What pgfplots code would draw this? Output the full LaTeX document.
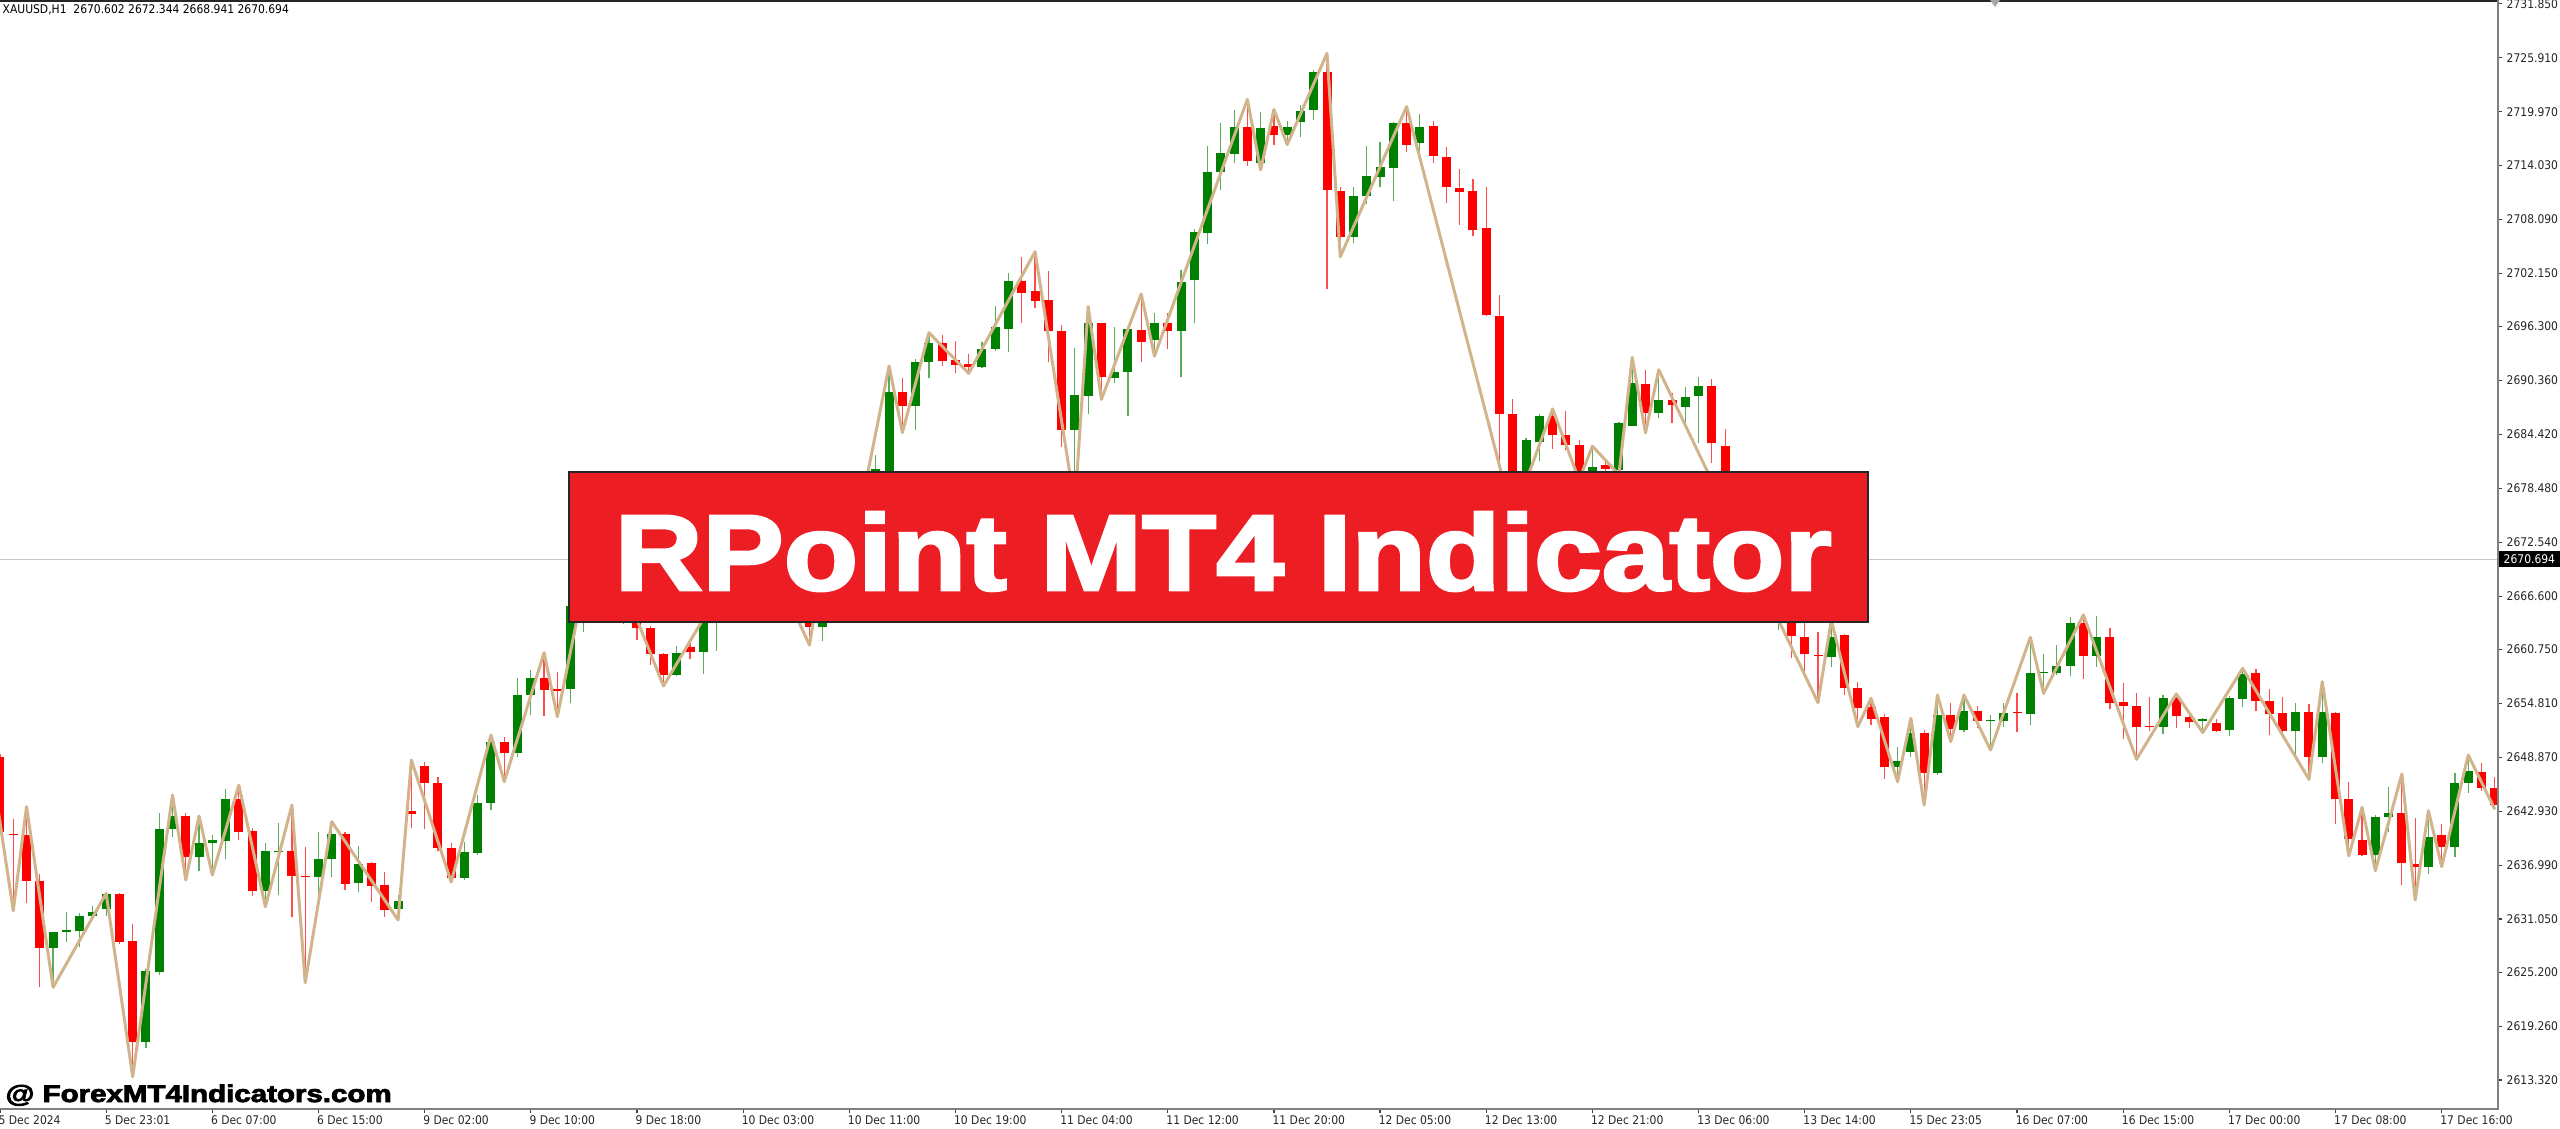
\documentclass[border=0pt]{standalone}
\usepackage{pgfplots}
\usepackage{pgfplotstable}
\usepackage{graphicx}
\usepackage{fontspec}
\pgfplotsset{compat=1.18}
\setmainfont{Liberation Sans}
\newfontfamily\mtfont[FakeStretch=0.9]{DejaVu Sans}
\newfontfamily\bannerfont[BoldFeatures={FakeBold=2.5}]{Liberation Sans}
\newfontfamily\wmfont[BoldFeatures={FakeBold=3}]{Liberation Sans}
\definecolor{mtgreen}{RGB}{0,128,0}
\definecolor{mtred}{RGB}{255,0,0}
\definecolor{zz}{RGB}{210,180,140}
\definecolor{banner}{RGB}{237,29,36}

\pgfplotstableread{
i O H L C
0 2648.93 2649.20 2640.40 2640.67
1 2640.45 2642.03 2631.97 2640.31
2 2640.31 2643.43 2632.78 2635.24
3 2635.24 2635.98 2623.60 2627.90
4 2627.90 2629.66 2623.53 2629.59
5 2629.62 2631.79 2628.56 2629.81
6 2629.73 2631.75 2628.01 2631.39
7 2631.39 2632.52 2631.31 2631.86
8 2632.12 2633.88 2631.39 2633.81
9 2633.81 2633.88 2628.30 2628.52
10 2628.60 2630.51 2613.69 2617.55
11 2617.55 2625.51 2616.81 2625.33
12 2625.26 2642.69 2624.89 2640.93
13 2640.93 2644.71 2640.12 2642.40
14 2642.40 2642.77 2635.35 2637.92
15 2637.92 2642.40 2636.38 2639.46
16 2639.39 2640.31 2635.90 2639.76
17 2639.68 2645.34 2637.63 2644.24
18 2644.24 2645.81 2639.76 2640.67
19 2640.78 2641.04 2633.59 2634.18
20 2634.18 2639.39 2632.41 2638.55
21 2638.40 2641.59 2633.70 2638.55
22 2638.55 2643.61 2631.24 2635.79
23 2635.79 2639.02 2624.04 2635.65
24 2635.72 2640.67 2633.70 2637.63
25 2637.63 2641.78 2635.65 2640.42
26 2640.42 2640.67 2634.25 2634.91
27 2635.06 2639.10 2634.07 2637.08
28 2637.19 2637.37 2632.97 2634.69
29 2634.80 2636.27 2631.31 2632.05
30 2632.12 2633.70 2630.95 2633.04
31 2642.99 2648.57 2641.04 2642.62
32 2647.91 2648.38 2640.93 2646.07
33 2646.07 2646.73 2638.50 2638.84
34 2638.84 2639.46 2635.13 2635.57
35 2635.57 2639.57 2635.40 2638.47
36 2638.36 2644.71 2638.10 2643.87
37 2643.87 2651.32 2643.06 2650.59
38 2650.59 2651.14 2646.18 2649.37
39 2649.30 2657.56 2648.86 2655.73
40 2655.73 2658.48 2653.52 2657.56
41 2657.56 2660.39 2653.41 2656.28
42 2656.35 2658.30 2653.34 2656.20
43 2656.35 2666.00 2654.81 2665.56
44 2665.56 2672.00 2662.70 2671.00
45 2671.00 2675.00 2669.50 2673.50
46 2673.50 2674.20 2668.00 2669.00
47 2669.00 2670.50 2663.60 2666.00
48 2666.00 2667.00 2661.78 2663.07
49 2663.07 2663.32 2659.03 2660.24
50 2660.24 2660.39 2656.72 2657.93
51 2657.93 2661.12 2657.86 2660.31
52 2660.98 2661.49 2659.65 2660.50
53 2660.50 2666.50 2658.04 2665.80
54 2665.80 2669.50 2660.61 2668.80
55 2668.80 2671.50 2666.50 2670.50
56 2670.50 2671.80 2667.50 2668.50
57 2668.50 2674.00 2667.80 2672.80
58 2672.80 2673.50 2668.50 2669.20
59 2669.20 2670.50 2665.50 2666.50
60 2666.50 2668.00 2664.20 2665.00
61 2665.00 2666.30 2661.23 2663.25
62 2663.25 2670.50 2661.71 2669.80
63 2669.80 2679.00 2669.00 2677.50
64 2677.50 2678.60 2676.50 2678.20
65 2678.20 2678.90 2677.30 2678.60
66 2678.60 2682.16 2678.00 2680.58
67 2680.20 2691.96 2679.80 2689.14
68 2689.06 2690.60 2684.62 2687.56
69 2687.56 2692.70 2684.90 2692.44
70 2692.44 2695.63 2690.60 2694.53
71 2694.46 2695.38 2691.96 2692.55
72 2692.62 2694.72 2691.23 2692.07
73 2692.18 2693.28 2691.15 2691.89
74 2691.82 2694.64 2691.70 2693.80
75 2693.80 2698.57 2693.65 2696.22
76 2696.04 2702.17 2693.54 2701.36
77 2701.32 2703.93 2696.74 2700.04
78 2700.22 2704.55 2698.31 2699.12
79 2699.23 2702.46 2692.44 2695.85
80 2695.82 2696.48 2683.08 2684.91
81 2684.91 2693.91 2676.58 2688.77
82 2688.65 2698.50 2686.68 2696.66
83 2696.66 2696.73 2688.29 2690.79
84 2690.60 2696.29 2690.13 2691.34
85 2691.34 2696.11 2686.46 2696.00
86 2695.93 2699.89 2692.44 2694.64
87 2694.83 2697.84 2693.06 2696.66
88 2696.73 2697.76 2693.80 2695.85
89 2695.85 2702.54 2690.71 2701.25
90 2701.43 2707.01 2696.66 2706.76
91 2706.57 2716.19 2705.40 2713.36
92 2713.36 2718.76 2711.35 2715.38
93 2715.31 2720.16 2714.36 2718.25
94 2718.25 2721.33 2713.99 2714.57
95 2714.27 2719.95 2713.57 2718.21
96 2718.40 2720.22 2716.28 2717.36
97 2717.44 2718.98 2716.35 2718.28
98 2718.79 2720.72 2717.13 2720.06
99 2720.14 2724.58 2719.06 2724.39
100 2724.31 2726.40 2700.44 2711.33
101 2711.25 2711.64 2703.99 2706.15
102 2706.15 2711.64 2705.46 2710.67
103 2710.67 2716.16 2709.79 2712.88
104 2712.80 2716.59 2711.72 2713.88
105 2713.77 2718.79 2710.17 2718.67
106 2718.67 2720.53 2715.50 2716.28
107 2716.47 2719.68 2715.58 2718.28
108 2718.40 2718.98 2714.27 2715.04
109 2715.00 2716.08 2709.90 2711.64
110 2711.52 2713.65 2707.47 2711.14
111 2711.25 2712.61 2706.23 2706.89
112 2707.12 2711.72 2697.42 2697.54
113 2697.42 2699.74 2679.00 2686.73
114 2686.73 2688.38 2675.31 2677.00
115 2677.00 2684.02 2676.00 2683.83
116 2683.64 2686.73 2681.51 2686.45
117 2686.45 2687.23 2682.86 2684.41
118 2684.41 2687.00 2682.67 2683.25
119 2683.25 2683.83 2679.40 2680.20
120 2680.20 2683.13 2679.80 2680.81
121 2681.01 2681.70 2679.90 2680.66
122 2680.54 2685.76 2680.00 2685.68
123 2685.37 2692.91 2685.37 2690.09
124 2690.01 2691.48 2684.60 2686.84
125 2686.84 2691.55 2686.22 2688.27
126 2688.22 2689.00 2685.65 2687.67
127 2687.48 2689.61 2685.65 2688.51
128 2688.66 2690.80 2683.44 2689.76
129 2689.76 2690.50 2681.32 2683.44
130 2683.15 2684.99 2677.20 2678.00
131 2678.00 2679.20 2672.50 2673.20
132 2673.20 2674.50 2667.00 2668.00
133 2668.00 2670.00 2665.50 2666.00
134 2665.00 2668.80 2662.88 2667.50
135 2667.00 2668.00 2659.77 2662.23
136 2662.08 2663.62 2658.11 2660.24
137 2660.17 2662.70 2654.88 2660.02
138 2659.95 2663.99 2658.78 2662.08
139 2662.34 2662.45 2655.73 2656.46
140 2656.46 2657.20 2652.24 2654.26
141 2654.44 2655.36 2652.40 2653.05
142 2653.27 2653.64 2646.44 2647.84
143 2647.76 2649.96 2646.18 2648.50
144 2649.49 2653.16 2648.94 2651.58
145 2651.58 2651.87 2643.61 2647.10
146 2647.17 2655.73 2646.92 2653.53
147 2653.53 2654.81 2650.59 2651.95
148 2651.87 2655.73 2651.69 2654.00
149 2654.00 2654.52 2652.06 2652.90
150 2652.83 2653.53 2649.67 2652.98
151 2652.90 2654.88 2652.17 2653.78
152 2653.86 2655.99 2651.69 2653.71
153 2653.64 2662.08 2652.42 2658.11
154 2658.11 2660.24 2655.91 2658.26
155 2658.19 2661.23 2657.93 2658.92
156 2658.92 2664.28 2657.82 2663.62
157 2663.62 2664.54 2657.50 2660.02
158 2660.02 2664.43 2658.85 2662.08
159 2662.08 2663.07 2654.15 2654.88
160 2654.99 2657.01 2650.84 2654.52
161 2654.52 2655.91 2648.64 2652.24
162 2652.31 2655.54 2651.80 2652.17
163 2652.24 2655.70 2651.40 2655.43
164 2655.43 2655.84 2652.13 2653.41
165 2653.34 2653.71 2652.06 2652.79
166 2652.90 2653.16 2651.58 2653.01
167 2652.61 2653.05 2651.69 2651.76
168 2651.87 2655.62 2651.21 2655.36
169 2655.25 2658.66 2654.37 2658.04
170 2658.11 2658.60 2654.00 2655.07
171 2655.07 2656.35 2651.32 2653.63
172 2653.71 2655.47 2650.96 2651.76
173 2651.76 2654.88 2649.12 2653.89
174 2653.89 2654.74 2646.44 2648.94
175 2648.94 2657.20 2648.20 2653.89
176 2653.78 2653.89 2641.52 2644.24
177 2644.27 2646.18 2638.00 2639.83
178 2639.76 2643.36 2638.05 2638.11
179 2638.11 2642.51 2636.38 2642.25
180 2642.25 2645.56 2640.68 2642.70
181 2642.70 2647.03 2634.80 2637.19
182 2637.12 2642.14 2633.15 2636.82
183 2636.82 2642.99 2636.01 2640.13
184 2640.31 2641.52 2636.82 2638.95
185 2638.95 2647.10 2637.92 2646.07
186 2646.07 2649.12 2644.97 2647.39
187 2647.28 2648.28 2645.19 2645.45
188 2645.45 2646.73 2643.14 2643.61
}\candles

\pgfplotstableread{
i P
-1 2651.40
1 2631.97
2 2643.43
4 2623.53
8 2633.88
10 2613.69
13 2644.71
14 2635.35
15 2642.40
16 2635.90
18 2645.81
20 2632.41
22 2643.61
23 2624.04
25 2641.78
30 2630.95
31 2648.57
34 2635.13
37 2651.32
38 2646.18
41 2660.39
42 2653.34
45 2675.00
50 2656.72
57 2674.00
61 2661.23
63 2679.00
65 2677.30
67 2691.96
68 2684.62
70 2695.63
73 2691.15
78 2704.55
81 2676.58
82 2698.50
83 2688.29
86 2699.89
87 2693.06
94 2721.33
95 2713.57
96 2720.22
97 2716.35
100 2726.40
101 2703.99
106 2720.53
114 2675.31
117 2687.23
119 2679.40
120 2683.13
122 2680.00
123 2692.91
124 2684.60
125 2691.55
137 2654.88
138 2663.99
140 2652.24
141 2655.36
143 2646.18
144 2653.16
145 2643.61
146 2655.73
147 2650.59
148 2655.73
150 2649.67
153 2662.08
154 2655.91
157 2664.54
161 2648.64
164 2655.84
166 2651.58
169 2658.66
174 2646.44
175 2657.20
177 2638.00
178 2643.36
179 2636.38
181 2647.03
182 2633.15
183 2642.99
184 2636.82
186 2649.12
188 2643.14
}\zigzag

\begin{document}
\begin{tikzpicture}
\useasboundingbox (0,0) rectangle (25.6,-11.28);
\begin{axis}[
  at={(0,0)}, anchor=north west,
  scale only axis, width=24.97cm, height=11.08cm,
  xmin=0, xmax=188.17, ymin=2610.24, ymax=2732.27,
  axis line style={draw=none},
  tick align=outside, major tick length=0.05cm,
  tick style={line width=0.012cm, black!75},
  xtick pos=left, ytick pos=right,
  xticklabel pos=left, yticklabel pos=right,
  xtick={0,8,...,184},
  xticklabels={5 Dec 2024, 5 Dec 23:01, 6 Dec 07:00, 6 Dec 15:00, 9 Dec 02:00, 9 Dec 10:00, 9 Dec 18:00, 10 Dec 03:00, 10 Dec 11:00, 10 Dec 19:00, 11 Dec 04:00, 11 Dec 12:00, 11 Dec 20:00, 12 Dec 05:00, 12 Dec 13:00, 12 Dec 21:00, 13 Dec 06:00, 13 Dec 14:00, 15 Dec 23:05, 16 Dec 07:00, 16 Dec 15:00, 17 Dec 00:00, 17 Dec 08:00, 17 Dec 16:00},
  ytick={2613.32,2619.26,2625.20,2631.05,2636.99,2642.93,2648.87,2654.81,2660.75,2666.60,2672.54,2678.48,2684.42,2690.36,2696.30,2702.15,2708.09,2714.03,2719.97,2725.91,2731.85},
  yticklabels={2613.320,2619.260,2625.200,2631.050,2636.990,2642.930,2648.870,2654.810,2660.750,2666.600,2672.540,2678.480,2684.420,2690.360,2696.300,2702.150,2708.090,2714.030,2719.970,2725.910,2731.850},
  xticklabel style={font=\mtfont\fontsize{3.4}{4}\selectfont, anchor=north west, inner sep=0pt, xshift=-0.02cm, yshift=-0.02cm, text=black!85},
  yticklabel style={font=\mtfont\fontsize{3.4}{4}\selectfont, anchor=west, inner sep=0pt, xshift=0.04cm, text=black!85},
  clip=true,
  candle/.style={only marks, mark=*, mark size=0pt, mark options={draw=none, fill=none}, forget plot},
]
% current price line
\addplot[black!22, line width=0.01cm, forget plot] coordinates {(0,2670.694) (188.17,2670.694)};
% red wicks
\addplot[candle,
  restrict expr to domain={\thisrow{O}-\thisrow{C}}{0:1000},
  error bars/.cd, y dir=plus, y explicit, error mark=none,
  error bar style={draw=mtred!70, line width=0.012cm}]
  table[x=i, y=L, y error plus expr={\thisrow{H}-\thisrow{L}}] {\candles};
% green wicks
\addplot[candle,
  restrict expr to domain={\thisrow{C}-\thisrow{O}}{0:1000},
  error bars/.cd, y dir=plus, y explicit, error mark=none,
  error bar style={draw=mtgreen!65, line width=0.012cm}]
  table[x=i, y=L, y error plus expr={\thisrow{H}-\thisrow{L}}] {\candles};
% red bodies
\addplot[candle,
  restrict expr to domain={\thisrow{O}-\thisrow{C}}{0:1000},
  error bars/.cd, y dir=plus, y explicit, error mark=none,
  error bar style={draw=mtred, line width=0.09cm}]
  table[x=i, y expr={min(\thisrow{O},\thisrow{C})-max(0.16-abs(\thisrow{C}-\thisrow{O}),0)/2},
        y error plus expr={max(abs(\thisrow{C}-\thisrow{O}),0.16)}] {\candles};
% green bodies
\addplot[candle,
  restrict expr to domain={\thisrow{C}-\thisrow{O}}{0:1000},
  error bars/.cd, y dir=plus, y explicit, error mark=none,
  error bar style={draw=mtgreen, line width=0.09cm}]
  table[x=i, y expr={min(\thisrow{O},\thisrow{C})-max(0.16-abs(\thisrow{C}-\thisrow{O}),0)/2},
        y error plus expr={max(abs(\thisrow{C}-\thisrow{O}),0.16)}] {\candles};
% zigzag
\addplot[zz, line width=0.03cm, line join=round, mark=none] table[x=i, y=P] {\zigzag};
\end{axis}
% frame
\draw[black!85, line width=0.02cm] (0,-0.01) -- (24.98,-0.01);
\draw[black!50, line width=0.02cm] (24.98,0) -- (24.98,-11.09) -- (0,-11.09);
% chart shift marker
\fill[black!35] (19.90,0) -- (20.00,0) -- (19.95,-0.07) -- cycle;
% title
\node[anchor=west, inner sep=0pt, font=\mtfont\fontsize{3.4}{4}\selectfont, text=black] at (0.02,-0.10) {XAUUSD,H1\ \ 2670.602 2672.344 2668.941 2670.694};
% current price label
\fill[black] (24.99,-5.51) rectangle (25.6,-5.67);
\node[anchor=west, inner sep=0pt, font=\mtfont\fontsize{3.4}{4}\selectfont, text=white] at (25.03,-5.59) {2670.694};
% banner
\draw[draw=black!85, line width=0.02cm, fill=banner] (5.693,-4.717) rectangle (18.677,-6.217);
\node[anchor=base west, inner sep=0pt, text=white] at (6.14,-5.90) {\resizebox{12.17cm}{0.78cm}{\bannerfont\bfseries RPoint MT4 Indicator}};
% watermark
\node[anchor=base west, inner sep=0pt, text=black] at (0.05,-11.02) {\resizebox{3.86cm}{0.175cm}{\wmfont\bfseries @ ForexMT4Indicators.com}};
\end{tikzpicture}
\end{document}
